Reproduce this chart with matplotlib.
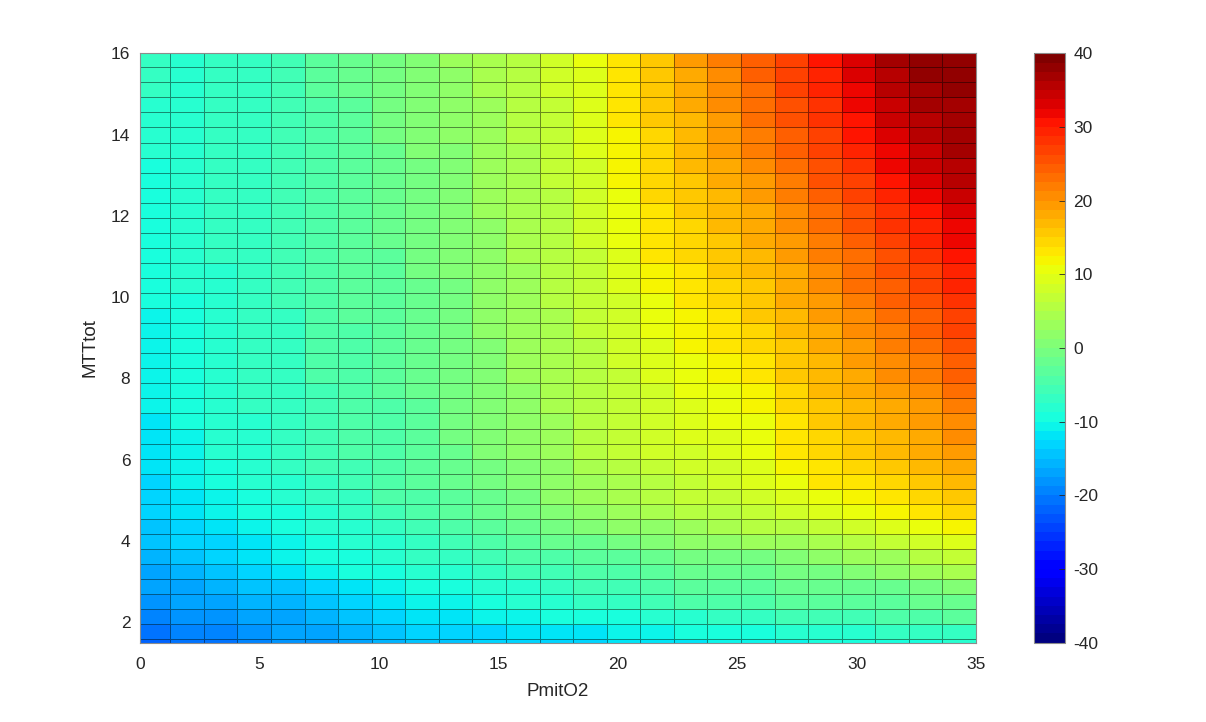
import matplotlib
matplotlib.use("Agg")
import matplotlib.pyplot as plt
import numpy as np

plt.rcParams["font.family"] = ["Liberation Sans", "DejaVu Sans"]
plt.rcParams["axes.unicode_minus"] = False

# cell edges (PmitO2 on x, MTTtot on y)
x_edges = np.r_[0.0, np.linspace(1.27, 35.0, 25)]
y_edges = np.r_[1.5, np.linspace(1.584, 15.656, 39), 16.0]

x_ticks = [0, 5, 10, 15, 20, 25, 30, 35]
y_ticks = [2, 4, 6, 8, 10, 12, 14, 16]
cbar_ticks = [-40, -30, -20, -10, 0, 10, 20, 30, 40]

# cell values, one row per MTTtot band, top of the chart first
rows_top_down = [
    [-7.0, -7.6, -6.5, -6.5, -5.3, -3.7, -2.5, -0.2, 1.0, 2.5, 4.3, 6.0, 8.0, 10.0, 13.0, 15.5, 18.8, 21.4, 24.0, 26.5, 30.0, 33.5, 36.7, 37.5, 38.0],
    [-7.2, -7.6, -6.5, -6.5, -5.3, -3.7, -2.5, -0.3, 0.9, 2.3, 4.1, 5.8, 7.8, 9.8, 12.9, 15.4, 18.5, 20.6, 24.0, 27.0, 29.0, 33.0, 35.5, 37.5, 38.0],
    [-7.4, -7.7, -6.6, -6.6, -5.3, -3.7, -2.5, -0.4, 0.8, 2.0, 3.9, 5.6, 7.6, 9.6, 12.8, 15.2, 18.2, 20.2, 23.3, 26.5, 29.0, 32.3, 35.0, 37.0, 37.5],
    [-7.6, -7.7, -6.7, -6.6, -5.4, -3.8, -2.6, -0.6, 0.6, 1.8, 3.6, 5.4, 7.4, 9.4, 12.6, 15.1, 17.8, 20.2, 23.0, 26.0, 28.0, 32.3, 34.7, 36.3, 37.0],
    [-7.8, -7.8, -6.8, -6.7, -5.4, -3.8, -2.6, -0.8, 0.4, 1.5, 3.4, 5.2, 7.2, 9.2, 12.5, 15.0, 17.4, 19.8, 22.6, 25.3, 27.6, 31.2, 34.0, 36.0, 37.0],
    [-8.0, -7.9, -6.9, -6.7, -5.5, -3.8, -2.7, -1.0, 0.2, 1.3, 3.2, 5.0, 7.0, 9.0, 12.4, 14.8, 17.2, 19.4, 22.2, 24.5, 27.0, 30.4, 33.0, 35.0, 37.0],
    [-8.4, -8.0, -7.0, -6.8, -5.5, -3.9, -2.7, -1.3, 0.0, 1.1, 3.0, 4.8, 6.8, 8.8, 12.2, 14.7, 16.9, 19.0, 21.8, 24.0, 26.5, 29.0, 32.3, 34.3, 36.7],
    [-8.8, -8.0, -7.1, -6.8, -5.6, -3.9, -2.8, -1.6, -0.2, 0.9, 2.7, 4.5, 6.5, 8.6, 12.0, 14.5, 16.5, 18.2, 20.6, 23.0, 25.7, 28.0, 32.0, 34.0, 36.0],
    [-9.2, -8.1, -7.2, -6.9, -5.6, -3.9, -2.8, -1.9, -0.4, 0.6, 2.5, 4.3, 6.3, 8.4, 11.8, 14.3, 16.1, 17.8, 19.8, 22.2, 25.0, 27.3, 31.2, 33.0, 35.0],
    [-9.2, -8.2, -7.3, -7.0, -5.6, -4.0, -2.9, -2.0, -0.6, 0.6, 2.5, 4.1, 6.0, 8.4, 11.2, 13.8, 15.5, 17.0, 19.0, 21.4, 24.0, 26.5, 29.0, 32.3, 34.3],
    [-9.3, -8.2, -7.3, -7.0, -5.7, -4.0, -2.9, -2.1, -0.6, 0.6, 2.5, 4.1, 6.0, 8.2, 10.6, 13.3, 15.0, 16.7, 18.6, 21.0, 23.3, 25.7, 28.0, 31.2, 33.5],
    [-9.4, -8.3, -7.4, -7.0, -5.7, -4.0, -3.0, -2.2, -0.8, 0.5, 2.3, 4.0, 6.0, 8.0, 10.3, 13.0, 14.7, 16.3, 18.2, 20.2, 22.6, 25.0, 27.6, 29.6, 32.3],
    [-9.5, -8.4, -7.5, -7.1, -5.8, -4.1, -3.1, -2.5, -1.0, 0.2, 2.2, 4.0, 5.7, 7.6, 10.0, 12.8, 14.3, 15.9, 17.7, 19.7, 22.0, 24.4, 26.8, 28.8, 31.4],
    [-9.6, -8.5, -7.5, -7.1, -5.9, -4.2, -3.2, -2.6, -1.0, 0.0, 2.0, 3.8, 5.5, 7.4, 9.8, 12.6, 14.0, 15.5, 17.2, 19.2, 21.5, 23.7, 26.1, 28.0, 30.6],
    [-9.8, -8.6, -7.6, -7.2, -6.0, -4.3, -3.3, -2.8, -1.2, 0.0, 2.0, 3.7, 5.4, 7.2, 9.4, 12.3, 13.5, 15.0, 16.7, 18.7, 20.9, 23.1, 25.3, 27.2, 29.7],
    [-9.9, -8.7, -7.7, -7.2, -6.1, -4.4, -3.5, -2.9, -1.3, -0.2, 1.8, 3.5, 5.2, 7.0, 9.1, 11.6, 13.0, 14.5, 16.1, 18.2, 20.3, 22.5, 24.6, 26.4, 28.9],
    [-10.0, -8.8, -7.7, -7.3, -6.2, -4.5, -3.6, -3.0, -1.4, -0.3, 1.6, 3.3, 5.0, 6.8, 8.7, 10.8, 12.7, 14.0, 15.5, 17.7, 19.7, 21.8, 23.8, 25.6, 28.0],
    [-10.2, -8.9, -7.8, -7.3, -6.3, -4.6, -3.7, -3.2, -1.6, -0.4, 1.5, 3.2, 4.8, 6.5, 8.4, 10.3, 12.3, 13.5, 15.0, 17.1, 19.2, 21.2, 23.1, 24.8, 27.2],
    [-10.3, -9.0, -7.9, -7.3, -6.4, -4.7, -3.8, -3.3, -1.8, -0.5, 1.3, 3.0, 4.6, 6.3, 8.1, 10.0, 12.0, 13.0, 14.4, 16.6, 18.6, 20.6, 22.3, 23.9, 26.3],
    [-10.5, -9.2, -8.0, -7.4, -6.5, -4.8, -4.0, -3.4, -2.0, -0.6, 1.2, 2.8, 4.4, 6.1, 7.8, 9.7, 11.3, 12.5, 13.9, 16.1, 18.0, 19.9, 21.6, 23.1, 25.5],
    [-10.6, -9.3, -8.0, -7.4, -6.6, -4.9, -4.1, -3.5, -2.2, -0.7, 1.0, 2.6, 4.2, 5.9, 7.6, 9.3, 10.6, 12.0, 13.3, 15.6, 17.4, 19.3, 20.8, 22.3, 24.6],
    [-10.8, -9.5, -8.1, -7.5, -6.6, -5.0, -4.2, -3.6, -2.3, -0.8, 0.8, 2.5, 4.0, 5.7, 7.4, 9.0, 10.2, 11.5, 12.8, 15.1, 16.9, 18.7, 20.1, 21.5, 23.8],
    [-11.0, -9.6, -8.2, -7.5, -6.7, -5.1, -4.4, -3.7, -2.5, -0.9, 0.7, 2.4, 3.9, 5.5, 7.2, 8.7, 10.0, 11.0, 12.2, 14.6, 16.3, 18.0, 19.3, 20.7, 22.9],
    [-11.2, -9.8, -8.3, -7.5, -6.8, -5.2, -4.5, -3.8, -2.6, -1.0, 0.6, 2.3, 3.8, 5.4, 7.0, 8.4, 9.7, 10.5, 11.7, 14.1, 15.7, 17.4, 18.6, 19.9, 22.1],
    [-11.4, -10.0, -8.3, -7.6, -6.8, -5.3, -4.6, -3.9, -2.7, -1.1, 0.6, 2.2, 3.7, 5.2, 6.8, 8.1, 9.4, 10.0, 11.1, 13.5, 15.1, 16.8, 17.8, 19.1, 21.2],
    [-11.7, -10.2, -8.4, -7.6, -6.9, -5.5, -4.8, -4.0, -2.8, -1.2, 0.5, 2.1, 3.6, 5.1, 6.6, 7.8, 9.0, 9.5, 10.6, 13.0, 14.6, 16.1, 17.0, 18.3, 20.4],
    [-12.0, -10.2, -8.4, -7.6, -7.0, -5.7, -5.0, -4.1, -3.0, -1.3, 0.4, 2.0, 3.5, 5.0, 6.5, 7.5, 8.6, 9.0, 10.2, 12.5, 14.0, 15.5, 16.3, 17.5, 19.5],
    [-12.4, -10.4, -8.8, -8.0, -7.3, -6.1, -5.3, -4.3, -3.2, -1.8, -0.4, 1.0, 2.4, 3.8, 5.2, 6.6, 8.0, 8.7, 9.8, 11.5, 13.4, 14.5, 15.6, 16.8, 18.2],
    [-12.6, -11.0, -9.6, -8.6, -7.6, -6.6, -5.7, -4.6, -3.6, -2.2, -0.9, 0.5, 1.8, 3.2, 4.6, 5.9, 7.3, 8.0, 9.0, 10.4, 12.5, 13.5, 14.5, 15.6, 16.7],
    [-13.1, -11.8, -10.3, -9.3, -8.3, -7.2, -6.3, -5.0, -4.0, -2.7, -1.4, -0.1, 1.3, 2.6, 3.9, 5.2, 6.5, 7.3, 8.0, 9.3, 10.5, 12.3, 13.6, 14.7, 15.8],
    [-13.5, -12.4, -11.0, -10.0, -9.0, -7.9, -6.9, -5.7, -4.6, -3.4, -2.2, -1.0, 0.2, 1.4, 2.6, 3.8, 5.0, 5.7, 7.0, 7.8, 9.0, 10.2, 12.0, 13.0, 14.3],
    [-13.9, -13.1, -12.0, -10.7, -9.7, -8.7, -7.6, -6.5, -5.5, -4.4, -3.3, -2.1, -1.0, 0.1, 1.3, 2.4, 3.5, 4.0, 5.0, 6.0, 7.0, 7.8, 9.2, 10.3, 12.2],
    [-14.3, -13.5, -12.7, -11.6, -10.3, -9.4, -8.4, -7.6, -6.5, -5.5, -4.5, -3.5, -2.5, -1.6, -0.6, 0.4, 1.4, 2.0, 2.5, 3.4, 4.5, 5.3, 6.5, 8.0, 9.8],
    [-15.1, -14.3, -13.5, -12.4, -11.2, -10.0, -9.2, -8.5, -7.3, -6.5, -5.7, -4.9, -4.2, -3.4, -2.6, -1.8, -1.0, -0.6, -0.2, 0.7, 1.8, 2.5, 3.7, 5.0, 7.0],
    [-16.3, -15.5, -14.7, -13.5, -12.4, -11.2, -10.0, -9.6, -8.4, -7.7, -6.9, -6.2, -5.5, -4.7, -4.0, -3.2, -2.5, -2.2, -1.8, -1.0, -0.2, 0.6, 1.4, 2.5, 4.2],
    [-17.5, -16.7, -15.9, -14.7, -13.9, -12.7, -11.4, -10.6, -10.0, -9.2, -8.4, -7.6, -6.9, -6.1, -5.3, -4.5, -3.7, -3.3, -3.0, -2.5, -2.2, -1.8, -1.4, -0.2, 1.2],
    [-18.6, -17.5, -16.7, -15.9, -15.1, -13.9, -13.1, -12.0, -10.8, -10.1, -9.4, -8.6, -7.9, -7.2, -6.5, -5.7, -5.0, -4.5, -4.0, -3.7, -3.7, -3.3, -3.0, -2.2, -1.4],
    [-19.4, -18.6, -18.2, -17.5, -16.3, -15.5, -14.3, -13.5, -12.4, -11.8, -11.2, -10.6, -10.0, -9.4, -8.8, -8.2, -7.6, -7.0, -6.5, -6.0, -5.7, -5.3, -5.0, -4.0, -3.6],
    [-20.2, -19.8, -19.0, -18.2, -17.5, -16.7, -15.5, -14.7, -13.5, -13.1, -12.6, -12.2, -11.8, -11.3, -10.9, -10.4, -10.0, -10.0, -8.8, -8.0, -8.0, -7.6, -7.3, -7.0, -6.3],
    [-21.4, -20.6, -20.2, -19.4, -18.6, -17.8, -16.7, -15.5, -14.3, -14.0, -13.6, -13.3, -13.0, -12.6, -12.3, -11.9, -11.6, -11.0, -11.0, -10.6, -10.0, -9.6, -9.2, -8.8, -8.5],
]
Z = np.flipud(np.array(rows_top_down))

text_col = "#262626"

fig = plt.figure(figsize=(12.06, 7.22), dpi=100)
ax = fig.add_axes([140/1206, 1 - 642.7/722, 836/1206, 589.4/722])

cmap = plt.get_cmap("jet", 64)
mesh = ax.pcolormesh(x_edges, y_edges, Z, cmap=cmap, vmin=-40, vmax=40,
                     edgecolors=(0, 0, 0, 0.45), linewidth=0.6)

ax.set_xlim(0, 35)
ax.set_ylim(1.5, 16)
ax.set_xticks(x_ticks)
ax.set_yticks(y_ticks)
ax.tick_params(length=0, labelsize=12.5, colors=text_col)
ax.tick_params(axis="x", pad=10)
ax.tick_params(axis="y", pad=7)
for s in ax.spines.values():
    s.set_color("#8c8c8c")
    s.set_linewidth(0.8)

ax.set_xlabel("PmitO2", fontsize=13.5, color=text_col, labelpad=8)
ax.set_ylabel("MTTtot", fontsize=13.5, color=text_col, labelpad=9)

cax = fig.add_axes([1034/1206, 1 - 642.7/722, 31/1206, 589.4/722])
cb = fig.colorbar(mesh, cax=cax, ticks=cbar_ticks)
cb.ax.tick_params(direction="in", length=4, width=0.6, labelsize=12.5,
                  colors=text_col, pad=6)
cb.outline.set_edgecolor("#8c8c8c")
cb.outline.set_linewidth(0.8)

fig.savefig("out.png", dpi=100)
